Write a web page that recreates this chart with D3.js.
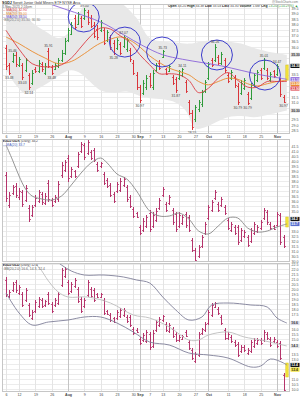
<!DOCTYPE html>
<html>
<head>
<style>
    body { margin: 0; background: #fff; }
    svg { display: block; }
</style>
</head>
<body>
<svg id="chart" width="300" height="397"></svg>
<script src="https://cdn.jsdelivr.net/npm/d3@7"></script>
<script>
    // trading days from 6-Jul-2021, last one (index 86) is today's bar
    const tickIdx = [0, 4, 9, 14, 19, 24, 29, 34, 39, 41, 44, 48, 53, 58, 62, 68, 73, 78, 83];
    const tickLbl = ["6", "12", "19", "26", "Aug", "9", "16", "23", "30", "Sep", "7", "13", "20", "27", "Oct", "11", "18", "25", "Nov"];

    // price panel
    const hi1 = [36.18,34.56,35.46,35.55,35.10,34.56,35.01,33.66,33.93,34.20, 34.83,34.65,34.56,35.91,34.38,34.56,35.01,35.73,36.80,37.70, 38.24,38.87,39.14,38.78,39.50,39.32,38.87,38.24,37.97,38.42, 37.70,37.52,37.07,36.62,36.80,36.44,37.07,36.80,35.91,34.83, 33.75,32.59,33.03,33.48,33.66,33.93,34.56,34.83,35.73,34.11, 34.38,33.48,33.30,33.93,34.11,33.03,31.24,30.34,30.79,31.24, 32.14,33.03,34.65,35.01,36.26,35.28,35.55,35.01,33.66,33.93, 33.48,32.76,33.03,33.21,31.96,32.76,33.66,33.93,34.11,35.01, 34.11,33.75,33.93,34.47,33.21,31.69,34.38];
    const lo1 = [33.93,33.48,34.56,34.20,34.20,33.03,33.75,32.14,32.59,33.66, 33.66,33.75,33.48,34.11,33.48,33.93,34.11,34.65,35.28,36.44, 37.07,37.52,37.97,37.70,38.42,37.97,37.70,36.80,36.62,37.34, 36.18,36.44,35.73,35.28,35.73,35.28,35.91,35.55,34.65,33.48, 32.14,30.97,31.69,32.14,32.32,32.14,33.75,33.93,35.01,33.48, 33.75,32.59,31.87,33.03,33.30,31.87,29.89,28.55,29.26,30.16, 30.61,31.87,33.03,34.20,34.65,34.38,34.38,33.66,32.76,33.03, 32.32,30.79,31.69,32.14,30.79,31.24,32.41,32.85,33.03,33.93, 33.03,32.85,33.21,33.39,31.51,30.97,33.03];
    const op1 = [35.90,34.40,34.70,35.30,34.40,34.40,33.90,33.50,32.80,34.00, 33.80,34.50,33.70,35.60,34.20,34.05,34.30,34.80,35.50,36.60, 37.20,38.60,38.10,38.60,38.60,39.10,38.60,38.00,37.60,37.50, 37.50,36.60,36.90,36.40,35.90,36.30,36.10,35.80,35.70,34.60, 33.50,32.40,31.90,32.40,33.40,32.40,33.90,34.60,35.10,34.00, 33.85,33.30,33.10,33.20,33.45,32.85,31.05,30.10,29.50,30.40, 30.85,32.05,33.20,34.85,34.85,35.10,34.60,34.85,33.50,33.20, 33.30,32.50,31.90,32.35,31.75,31.45,32.60,33.05,33.90,34.10, 33.90,33.05,33.80,33.55,33.00,31.50,33.20];
    const cl1 = [34.30,33.70,35.30,34.50,34.90,33.30,34.80,32.40,33.70,33.80, 34.60,34.00,34.30,34.30,33.70,34.40,34.85,35.50,36.50,37.50, 38.00,37.80,38.95,37.90,39.30,38.20,37.90,37.00,36.90,38.20, 36.40,37.30,36.00,35.50,36.60,35.50,36.90,36.60,34.90,33.70, 32.40,31.20,32.80,33.20,32.60,33.70,34.40,34.10,35.60,33.60, 34.25,32.80,32.10,33.80,34.00,32.05,30.10,28.80,30.60,31.05, 31.95,32.85,34.45,34.35,36.00,34.55,35.35,33.90,32.95,33.75, 32.55,31.05,32.80,33.00,31.00,32.55,33.45,33.75,33.25,34.85, 33.25,33.55,33.35,34.30,31.75,31.10,34.30];

    // [day index, value]
    const ma10 = [[0,37.5],[4,35.8],[8,34.5],[13,34.2],[17,34.4],[20,35.0],[23,36.0],[26,37.0],[29,37.7],[32,37.6],[35,37.0],[38,36.4],[41,35.3],[44,34.4],[47,33.6],[50,33.6],[53,33.5],[56,33.0],[59,31.9],[62,32.3],[65,33.2],[68,33.7],[71,33.0],[74,32.4],[77,32.4],[80,32.9],[83,32.9],[86,32.9]];
    const ma20 = [[0,36.9],[4,36.3],[8,35.6],[12,35.0],[16,34.5],[20,34.7],[24,35.4],[28,36.2],[32,36.7],[35,36.9],[38,36.6],[41,36.0],[44,35.2],[47,34.6],[50,34.1],[53,33.8],[56,33.5],[59,32.9],[62,32.6],[65,32.9],[68,33.2],[71,33.1],[74,32.7],[77,32.5],[80,32.7],[83,32.9],[86,33.0]];
    const ma50 = [[0,41.2],[6,40.6],[12,40.0],[18,39.4],[24,38.8],[30,38.1],[36,37.1],[42,36.1],[48,35.3],[54,34.9],[60,34.6],[66,34.3],[72,33.9],[78,33.5],[84,33.2],[86,33.1]];
    const bbUp1 = [[0,39.8],[4,39.2],[8,38.2],[12,37.4],[16,36.8],[19,37.2],[22,38.8],[25,40.2],[28,40.8],[32,40.6],[36,39.8],[40,38.6],[44,36.8],[48,36.5],[52,36.4],[56,36.3],[60,36.5],[64,36.6],[68,36.5],[72,36.3],[76,35.9],[80,35.6],[86,35.3]];
    const bbLo1 = [[0,34.0],[3,32.6],[6,31.8],[10,32.3],[14,33.0],[17,33.6],[20,33.9],[23,33.6],[26,32.8],[29,32.1],[33,31.9],[37,32.0],[41,31.6],[44,31.4],[48,31.3],[52,31.0],[55,30.3],[58,28.7],[61,28.8],[64,29.2],[68,29.7],[72,29.8],[76,29.7],[80,29.9],[86,30.3]];

    // hand-drawn circles: [day index, price]
    const circleMarks = [[23.8, 38.69], [36.4, 36.44], [47.8, 35.55], [64.6, 35.28], [79.3, 33.48]];
    // bars carrying a price note: [day index, "h" high / "l" low]
    const notes = [[2,"h"],[1,"l"],[5,"l"],[7,"l"],[13,"h"],[14,"l"],[24,"h"],[33,"l"],[36,"h"],[41,"l"],[48,"h"],[52,"l"],[54,"h"],[57,"l"],[64,"h"],[71,"l"],[74,"l"],[79,"h"],[83,"h"],[85,"l"]];

    // ratio panel 1
    const hi2 = [38.9,36.9,37.6,37.8,37.3,37.1,37.6,35.6,35.6,36.6, 37.1,36.9,36.8,38.1,36.3,36.6,38.0,39.9,40.1,40.6, 39.4,39.1,40.9,41.9,41.8,42.1,41.1,41.3,39.9,39.9, 38.9,38.3,37.8,36.9,37.9,38.3,38.4,37.6,36.6,35.4, 34.9,33.6,34.3,34.6,35.1,34.9,35.3,36.3,37.4,35.9, 36.6,35.3,34.9,34.9,34.6,34.9,34.6,32.3,31.3,31.6, 32.6,33.9,35.6,36.1,37.1,35.9,36.4,35.6,34.3,33.9, 33.6,33.6,33.3,33.1,32.6,33.3,33.9,33.6,34.1,35.3, 35.1,33.9,33.6,34.9,34.8,32.6,34.4];
    const lo2 = [35.9,35.3,36.6,36.3,36.1,35.4,35.9,33.9,34.4,35.4, 35.8,35.6,35.6,35.9,35.4,35.8,35.9,38.3,38.9,37.9, 38.3,38.3,39.3,40.8,40.1,40.6,40.1,39.9,38.9,39.3, 37.6,37.3,36.4,35.8,36.8,36.9,37.4,35.9,35.3,34.3, 34.3,32.6,32.9,33.3,32.9,33.3,33.9,35.1,36.4,34.9, 35.6,33.6,32.9,33.3,33.6,33.3,32.9,30.9,29.9,30.3, 31.3,32.6,34.1,34.9,36.1,34.9,35.4,34.6,33.1,32.9, 32.6,31.6,31.9,32.3,31.4,31.8,32.6,32.8,33.1,34.1, 33.6,33.1,33.1,33.4,31.6,31.3,33.4];
    const op2 = [38.6,35.6,36.8,37.5,36.4,36.9,36.1,35.3,34.6,35.6, 36.0,36.7,35.8,37.8,36.1,36.0,36.2,38.6,39.1,40.3, 38.5,39.0,39.5,41.0,41.6,40.8,40.9,41.1,39.7,39.5, 38.7,38.1,37.6,36.7,37.0,37.1,37.6,37.4,36.4,35.2, 34.8,33.4,33.1,33.5,34.8,33.5,34.1,35.3,36.6,35.7, 35.8,35.1,34.7,33.5,33.8,34.7,34.4,32.1,31.1,30.5, 31.5,32.8,34.3,35.1,36.3,35.7,35.6,35.4,34.1,33.1, 33.4,33.4,32.1,32.5,32.4,32.0,32.8,33.0,33.3,34.3, 34.9,33.7,33.5,33.6,34.6,32.4,33.6];
    const cl2 = [36.3,36.6,37.4,36.6,37.0,35.7,37.3,34.2,35.4,36.3, 36.9,35.9,36.5,36.2,35.6,36.4,37.7,39.6,39.9,38.3, 39.2,38.5,40.7,41.7,40.4,41.9,40.3,40.1,39.1,39.8, 37.8,37.5,36.6,36.0,37.7,38.0,38.2,36.2,35.5,34.5, 34.4,32.8,34.0,34.4,33.2,34.6,35.0,36.1,37.2,35.1, 36.4,33.9,33.2,34.6,34.4,33.6,33.1,31.1,30.1,31.4, 32.4,33.7,35.4,35.9,36.9,35.1,36.2,34.8,33.3,33.7, 32.8,31.9,33.1,32.9,31.6,33.1,33.7,33.4,33.9,35.1, 33.9,33.3,33.2,34.7,31.9,31.5,34.2];
    const ma2 = [[0,41.6],[2,40.1],[4,38.5],[6,37.2],[8,36.5],[11,36.2],[14,36.1],[17,36.5],[20,37.6],[23,38.8],[26,39.8],[29,40.3],[31,39.8],[34,38.7],[37,38.2],[40,37.0],[44,35.0],[47,34.5],[50,34.5],[53,34.8],[56,34.2],[59,33.0],[62,32.7],[65,33.5],[68,34.3],[71,34.3],[74,33.3],[77,32.9],[80,33.0],[83,33.4],[86,33.7]];

    // ratio panel 2
    const hi3 = [21.2,19.9,20.7,20.9,20.4,19.7,20.1,18.6,17.9,18.9, 19.2,19.1,18.9,19.7,18.7,19.1,19.7,22.1,22.2,20.9, 20.7,21.1,20.2,19.2,19.1,20.9,20.2,20.1,19.6,19.6, 19.1,17.9,17.6,17.2,17.9,18.1,18.1,17.4,17.4,16.2, 16.1,15.2,15.6,15.9,15.7,15.9,16.9,17.2,17.4,16.7, 16.6,16.2,15.7,15.4,15.4,15.9,14.9,14.1,13.7,15.7, 16.1,16.7,17.9,18.6,18.7,18.2,17.4,16.1,15.7,15.4, 14.9,14.7,14.4,14.4,14.1,14.9,15.1,15.1,15.1,15.9, 15.7,15.2,15.2,14.9,14.8,11.6,12.6];
    const lo3 = [19.2,19.1,19.7,19.6,19.4,18.2,18.7,17.2,16.9,17.6, 18.1,18.1,18.2,18.4,17.6,18.2,18.4,20.2,21.1,19.4, 19.6,20.1,18.6,17.6,18.1,19.2,19.1,18.7,19.1,19.1, 17.4,17.4,16.7,16.6,16.9,17.1,17.2,16.6,16.2,15.4, 15.6,14.4,14.7,14.6,13.9,14.1,15.7,16.2,16.7,15.7, 15.6,15.1,14.7,14.7,14.9,15.2,13.9,12.9,12.6,13.2, 15.4,15.7,16.4,17.2,18.1,17.4,16.4,14.9,14.9,14.6, 14.2,13.2,13.6,13.7,13.4,13.6,14.1,14.4,14.4,14.7, 14.9,14.2,14.6,14.1,12.9,9.7,11.2];
    const op3 = [20.9,19.3,19.9,20.7,19.6,19.5,18.9,18.4,17.1,17.8, 18.3,18.9,18.4,19.5,18.5,18.4,18.6,20.4,21.3,20.7, 19.8,20.3,20.0,19.0,18.3,19.4,20.0,19.9,19.5,19.2, 18.9,17.8,17.4,17.1,17.1,17.3,17.4,17.2,17.2,16.0, 15.9,15.0,14.9,14.8,15.5,14.3,15.9,16.4,16.9,16.5, 15.8,16.0,15.5,14.9,15.0,15.7,14.7,13.9,12.8,13.4, 15.6,15.9,16.6,17.4,18.2,18.0,17.2,15.9,15.1,15.2, 14.7,14.5,13.8,14.2,13.6,13.8,14.3,14.6,14.9,14.9, 15.5,15.0,14.8,14.7,14.6,11.4,11.4];
    const cl3 = [19.5,19.7,20.5,19.9,20.2,18.4,19.9,17.4,17.7,18.7, 19.0,18.3,18.8,18.6,17.8,18.9,19.5,21.9,22.0,19.6, 20.5,20.9,18.8,17.8,18.9,20.7,19.3,18.9,19.2,19.5, 17.6,17.5,16.9,16.7,17.7,17.9,17.9,16.8,16.4,15.6, 15.7,14.6,15.4,15.7,14.2,15.6,16.7,17.0,17.3,15.9, 16.4,15.3,14.9,15.2,15.3,15.3,14.1,13.1,13.5,15.5, 16.0,16.5,17.7,18.4,18.6,17.6,16.6,15.1,15.5,14.8, 14.4,13.4,14.2,13.9,13.9,14.7,14.9,14.9,14.6,15.7, 15.1,14.4,15.0,14.3,13.1,9.9,12.4];
    const bbUp3 = [[0,25.6],[6,24.8],[12,23.6],[17,22.4],[20,21.8],[24,21.4],[30,21.4],[36,21.2],[40,20.9],[44,20.6],[48,19.2],[52,17.9],[56,16.9],[60,17.2],[63,18.4],[68,18.6],[75,18.4],[80,18.2],[83,17.1],[86,16.6]];
    const bbMid3 = [[0,24.6],[5,23.4],[10,22.2],[13,20.8],[16,19.7],[19,19.2],[25,19.2],[32,18.6],[39,17.4],[44,17.1],[50,16.2],[56,14.9],[59,14.9],[62,15.4],[68,15.7],[73,15.2],[78,14.9],[86,14.3]];
    const bbLo3 = [[0,19.6],[4,17.6],[8,16.4],[13,16.7],[19,16.9],[24,17.2],[29,17.2],[34,16.6],[39,15.7],[44,14.7],[50,14.4],[56,13.6],[62,13.4],[68,13.1],[75,12.2],[78,12.3],[81,13.0],[85,12.6],[86,12.4]];

    const font = "'Liberation Sans', Arial, sans-serif";
    const svg = d3.select("#chart");
    const plotL = 2, plotR = 290, last = 86;
    const f2 = d3.format(".2f"), f1 = d3.format(".1f");

    const x = d3.scaleLinear().domain([0, last]).range([6, 286.8]);
    const px = i => Math.round(x(i)) + 0.5;

    const panels = [
        {top: 4, bottom: 134, y: d3.scaleLinear().domain([28, 40]).range([136.1, 2.4]), ticks: d3.range(28.5, 39.51, 0.5)},
        {top: 139, bottom: 262, y: d3.scaleLinear().domain([29.3, 41.8]).range([268, 143]), ticks: d3.range(30, 41.51, 0.5)},
        {top: 263, bottom: 392, y: d3.scaleLinear().domain([9.7, 22.7]).range([392, 262]), ticks: d3.range(10, 22.51, 0.5)}
    ];

    const defs = svg.append("defs");
    panels.forEach((p, k) => {
        defs.append("clipPath").attr("id", "clip" + k)
            .append("rect").attr("x", plotL).attr("y", p.top)
            .attr("width", plotR - plotL).attr("height", p.bottom - p.top);
        p.g = svg.append("g").attr("clip-path", `url(#clip${k})`);

        // grid
        p.g.selectAll("line.h").data(p.ticks).join("line")
            .attr("x1", plotL).attr("x2", plotR)
            .attr("y1", d => Math.round(p.y(d)) + 0.5).attr("y2", d => Math.round(p.y(d)) + 0.5)
            .attr("stroke", "#ececec");
        p.g.selectAll("line.v").data(tickIdx).join("line")
            .attr("x1", d => px(d)).attr("x2", d => px(d))
            .attr("y1", p.top).attr("y2", p.bottom)
            .attr("stroke", (d, k2) => /[a-z]/i.test(tickLbl[k2]) ? "#c4c4c4" : "#e4e4e4");
    });

    function curve(yScale, pts) {
        return d3.line().x(d => x(d[0])).y(d => yScale(d[1])).curve(d3.curveCatmullRom.alpha(0.5))(pts);
    }

    function drawBars(g, yScale, hi, lo, op, cl, color) {
        const idx = d3.range(last);
        const bars = g.append("g").attr("stroke-width", 1);
        bars.selectAll("line.hl").data(idx).join("line")
            .attr("x1", px).attr("x2", px)
            .attr("y1", i => yScale(hi[i])).attr("y2", i => yScale(lo[i]))
            .attr("stroke", color);
        bars.selectAll("line.o").data(idx).join("line")
            .attr("x1", i => px(i) - 1.3).attr("x2", px)
            .attr("y1", i => Math.round(yScale(op[i])) + 0.5).attr("y2", i => Math.round(yScale(op[i])) + 0.5)
            .attr("stroke", color);
        bars.selectAll("line.c").data(idx).join("line")
            .attr("x1", px).attr("x2", i => px(i) + 1.3)
            .attr("y1", i => Math.round(yScale(cl[i])) + 0.5).attr("y2", i => Math.round(yScale(cl[i])) + 0.5)
            .attr("stroke", color);
        // today's bar, highlighted
        g.append("rect")
            .attr("x", x(last) - 1).attr("width", 2.4)
            .attr("y", yScale(hi[last])).attr("height", yScale(lo[last]) - yScale(hi[last]))
            .attr("fill", "#f3e33a").attr("stroke", "#d8c21a").attr("stroke-width", 0.5);
    }

    // value tags on the right axis, pushed apart so they do not overlap,
    // then the axis labels they cover are left out
    function axisWithTags(p, tags, fmt) {
        const items = tags.map(t => ({yy: p.y(t[0]), bg: t[1], fg: t[2], txt: fmt(t[0])}))
            .sort((a, b) => a.yy - b.yy);
        for (let k = 1; k < items.length; k++) {
            if (items[k].yy - items[k - 1].yy < 4.6) items[k].yy = items[k - 1].yy + 4.6;
        }
        const ga = svg.append("g").attr("transform", `translate(${plotR},0)`)
            .call(d3.axisRight(p.y).tickValues(p.ticks).tickSize(0).tickPadding(1.5).tickFormat(f1));
        ga.attr("font-size", 3.6).attr("font-family", font);
        ga.select(".domain").remove();
        ga.selectAll("text").attr("fill", "#555");
        ga.selectAll(".tick").filter(d => items.some(it => Math.abs(p.y(d) - it.yy) < 4.4)).remove();
        items.forEach(it => {
            svg.append("rect").attr("x", plotR + 0.5).attr("y", it.yy - 2.1).attr("width", 9).attr("height", 4.2).attr("fill", it.bg);
            svg.append("text").attr("x", plotR + 1.3).attr("y", it.yy + 1.3).attr("font-size", 3.4)
                .attr("font-family", font).attr("fill", it.fg).attr("font-weight", "bold").text(it.txt);
        });
    }

    function label(xx, yy, parts, size, anchor) {
        const t = svg.append("text").attr("x", xx).attr("y", yy).attr("font-size", size || 3.6)
            .attr("font-family", font).attr("text-anchor", anchor || "start");
        parts.forEach(pt => t.append("tspan").attr("fill", pt[1] || "#333").attr("font-weight", pt[2] || "normal").text(pt[0]));
    }

    const lastV = a => a[a.length - 1][1];

    // ---- price panel ----
    const p1 = panels[0], y1 = p1.y;
    const band = curve(y1, bbUp1) + curve(y1, bbLo1.slice().reverse()).replace(/^M/, "L") + "Z";
    p1.g.append("path").attr("d", band).attr("fill", "#e8e8e8");

    const upDown = i => cl1[i] >= op1[i] ? "#2f9a3a" : "#d9343a";
    drawBars(p1.g, y1, hi1, lo1, op1, cl1, upDown);

    [[ma50, "#8a63d9"], [ma20, "#ea8a2e"], [ma10, "#dc3c44"]].forEach(m => {
        p1.g.append("path").attr("d", curve(y1, m[0])).attr("fill", "none").attr("stroke", m[1]).attr("stroke-width", 0.9);
    });

    p1.g.selectAll("ellipse.mark").data(circleMarks).join("ellipse")
        .attr("cx", d => x(d[0])).attr("cy", d => y1(d[1]))
        .attr("rx", 15.5).attr("ry", 15)
        .attr("fill", "none").attr("stroke", "#3d3dcc").attr("stroke-width", 1);

    svg.selectAll("text.note").data(notes).join("text")
        .attr("x", d => x(d[0])).attr("y", d => d[1] === "h" ? y1(hi1[d[0]]) - 1.2 : y1(lo1[d[0]]) + 3.8)
        .attr("text-anchor", "middle").attr("font-size", 3.4).attr("font-family", font).attr("fill", "#444")
        .text(d => f2(d[1] === "h" ? hi1[d[0]] : lo1[d[0]]));

    axisWithTags(p1, [
        [lastV(bbUp1), "#dcdcdc", "#333"],
        [cl1[last], "#111", "#fff"],
        [lastV(ma50), "#8a63d9", "#fff"],
        [lastV(ma20), "#ea8a2e", "#fff"],
        [lastV(ma10), "#dc3c44", "#fff"],
        [lastV(bbLo1), "#dcdcdc", "#333"]
    ], f2);

    label(2, 4.2, [["SGDJ", "#222", "bold"], [" Sprott Junior Gold Miners ETF  NYSE Arca", "#333"]], 3.6);
    label(2, 7.8, [["4-Nov-2021 2:24pm", "#666"]], 3.4);
    label(2, 11.2, [["— MA(10) " + f2(lastV(ma10)), "#dc3c44"]], 3.4);
    label(2, 14.6, [["— MA(20) " + f2(lastV(ma20)), "#ea8a2e"]], 3.4);
    label(2, 18, [["— MA(50) " + f2(lastV(ma50)), "#6a4ad0"]], 3.4);
    label(2, 21.4, [["▪ BB(20,2.0) " + f2(lastV(bbUp1)) + ", " + f2(lastV(bbLo1)), "#777"]], 3.4);

    label(298, 2.8, [["@StockCharts.com", "#777"]], 3, "end");
    const chg = cl1[last] - cl1[last - 1];
    label(298, 7, [
        ["Open ", "#222", "bold"], [f2(op1[last]) + "  ", "#444"],
        ["High ", "#222", "bold"], [f2(hi1[last]) + "  ", "#444"],
        ["Low ", "#222", "bold"], [f2(lo1[last]) + "  ", "#444"],
        ["Last ", "#222", "bold"], [f2(cl1[last]) + "  ", "#444"],
        ["Volume ", "#222", "bold"], ["1.6M  ", "#444"],
        ["Chg ", "#222", "bold"], ["+" + f2(chg) + " (+" + f2(chg / cl1[last - 1] * 100) + "%) ▲", "#2f9a3a"]
    ], 3.4, "end");

    // ---- ratio panel 1 ----
    const p2 = panels[1], y2 = p2.y;
    drawBars(p2.g, y2, hi2, lo2, op2, cl2, "#b5346b");
    p2.g.append("path").attr("d", curve(y2, ma2)).attr("fill", "none").attr("stroke", "#8a8a8a").attr("stroke-width", 0.9);
    axisWithTags(p2, [
        [cl2[last], "#111", "#fff"],
        [lastV(ma2), "#5a6fcf", "#fff"]
    ], f1);
    label(2, 142.2, [["SGDJ:GDX", "#222", "bold"], [" (Daily) " + f1(cl2[last]), "#444"]], 3.4);
    label(2, 145.6, [["— MA(20) " + f1(lastV(ma2)), "#4a5fc0"]], 3.4);

    // ---- ratio panel 2 ----
    const p3 = panels[2], y3 = p3.y;
    drawBars(p3.g, y3, hi3, lo3, op3, cl3, "#b5346b");
    p3.g.append("path").attr("d", curve(y3, bbMid3)).attr("fill", "none").attr("stroke", "#bdbdbd").attr("stroke-width", 0.9);
    [bbUp3, bbLo3].forEach(b => p3.g.append("path").attr("d", curve(y3, b)).attr("fill", "none").attr("stroke", "#7f7f98").attr("stroke-width", 0.9));
    axisWithTags(p3, [
        [lastV(bbUp3), "#d8d8e4", "#333"],
        [lastV(bbMid3), "#e4e4e4", "#333"],
        [cl3[last], "#111", "#fff"],
        [lastV(bbLo3), "#f3e33a", "#333"]
    ], f1);
    label(2, 266.4, [["SGDJ:GLD", "#222", "bold"], [" (Daily) " + f1(cl3[last]), "#444"]], 3.4);
    label(2, 269.8, [["▪ BB(20,2.0) " + f1(lastV(bbUp3)) + ", " + f1(lastV(bbMid3)) + ", " + f1(lastV(bbLo3)), "#666"]], 3.4);

    // frames
    panels.forEach(p => {
        svg.append("rect").attr("x", plotL + 0.5).attr("y", p.top + 0.5)
            .attr("width", plotR - plotL - 1).attr("height", p.bottom - p.top - 1)
            .attr("fill", "none").attr("stroke", "#c6c6c6").attr("stroke-width", 1);
    });

    // date axes
    [p1.bottom, p3.bottom].forEach(yy => {
        const xa = svg.append("g").attr("transform", `translate(0,${yy})`)
            .call(d3.axisBottom(x).tickValues(tickIdx).tickFormat((d, k) => tickLbl[k]).tickSize(0).tickPadding(1));
        xa.attr("font-size", 3.6).attr("font-family", font);
        xa.select(".domain").remove();
        xa.selectAll("text").attr("fill", "#444")
            .attr("font-weight", (d, k) => /[a-z]/i.test(tickLbl[k]) ? "bold" : "normal");
    });
</script>
</body>
</html>
